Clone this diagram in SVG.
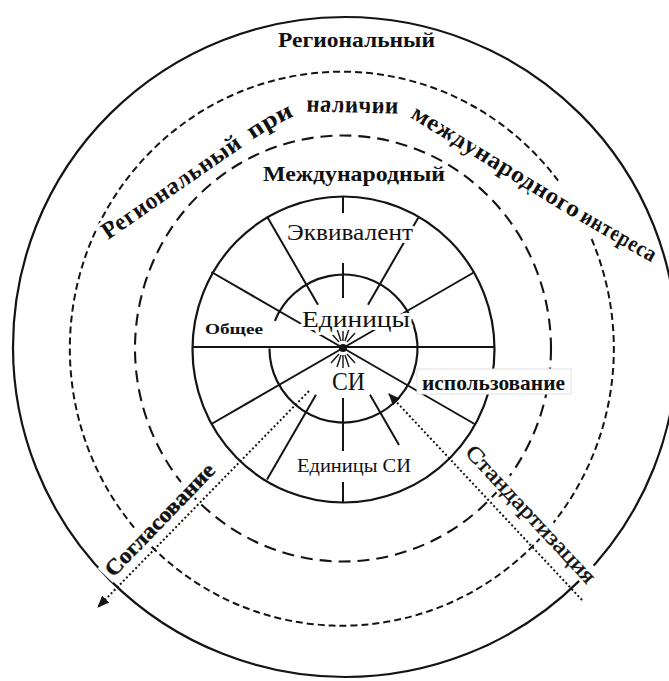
<svg xmlns="http://www.w3.org/2000/svg" width="669" height="681" viewBox="0 0 669 681">
<defs>
<style>
.c{fill:none;stroke:#141414;stroke-width:2.2}
.d1{fill:none;stroke:#141414;stroke-width:2;stroke-dasharray:7 4}
.d2{fill:none;stroke:#141414;stroke-width:2.1;stroke-dasharray:12 7}
.ln{fill:none;stroke:#141414;stroke-width:2}
.ray{fill:none;stroke:#141414;stroke-width:1.4}
.dot{fill:none;stroke:#141414;stroke-width:2;stroke-dasharray:2 2.4}
.t{font-family:"Liberation Serif","Times New Roman",serif;fill:#111}
.b{font-weight:bold}
.halo{stroke:#fff;stroke-width:6;stroke-linejoin:round;paint-order:stroke}
.bg{fill:#fff;stroke:none}
</style>
<marker id="ah" markerUnits="userSpaceOnUse" markerWidth="12" markerHeight="10" refX="11" refY="5" orient="auto">
<path d="M0,0 L12,5 L0,10 z" fill="#141414"/>
</marker>
<path id="arc" d="M 103,243.5 L 246,144.5 Q 277.5,122 305.5,111.5 L 398,113.5 Q 409,115.5 417,121.7 L 565,212.7 L 697,288.8"/>
</defs>
<rect width="669" height="681" fill="#fff"/>

<g id="rings">
<ellipse class="c" cx="345" cy="347" rx="332" ry="330"/>
<path class="d1" d="M 591.6,239 A 272 277 0 1 1 558.1,180.7"/>
<ellipse class="d2" cx="343" cy="348.5" rx="208" ry="213"/>
<ellipse class="c" cx="343.5" cy="349.5" rx="151" ry="153"/>
<path class="c" d="M269.5,348.5 A74,74 0 1 0 274.9,320.8"/>
</g>

<g id="sectors">
<path class="ln" d="M193,347 H494"/>
<path class="ln" d="M343,348 L211.4,272 M343,348 L474.6,272 M343,348 L211.4,424 M343,348 L474.6,424"/>
<path class="ln" d="M318,304.7 L267,216.4 M368,304.7 L419,216.4 M316,394.8 L267,479.6 M370,394.8 L399,445"/>
<path class="ln" d="M343,197 V213 M343,263 V298 M343,398 V451 M343,482 V503"/>
<path class="ray" d="M345,341 L349,329 M341,341 L337,329 M343,341 V331 M339,342 L331,333 M347,342 L355,333 M345,355 L349,367 M341,355 L337,367 M343,355 V368 M339,354 L331,363 M347,354 L355,363"/>
<circle cx="343" cy="348" r="4" fill="#141414"/>
</g>

<g id="labels">
<text class="t b" x="278" y="47" font-size="22" textLength="157" lengthAdjust="spacingAndGlyphs">Региональный</text>
<g id="curved" class="t b halo" font-size="24">
<text><textPath href="#arc" startOffset="6" textLength="164" lengthAdjust="spacingAndGlyphs">Региональный</textPath></text>
<text><textPath href="#arc" startOffset="182" textLength="48" lengthAdjust="spacingAndGlyphs">при</textPath></text>
<text><textPath href="#arc" startOffset="243" textLength="92" lengthAdjust="spacingAndGlyphs">наличии</textPath></text>
<text><textPath href="#arc" startOffset="347" textLength="194" lengthAdjust="spacingAndGlyphs">международного</textPath></text>
<text font-size="23"><textPath href="#arc" startOffset="545" textLength="84" lengthAdjust="spacingAndGlyphs">интереса</textPath></text>
</g>
<text class="t b halo" x="263" y="181" font-size="22" textLength="182" lengthAdjust="spacingAndGlyphs">Международный</text>
<text class="t halo" x="287" y="240" font-size="24" textLength="126" lengthAdjust="spacingAndGlyphs">Эквивалент</text>
<text class="t halo" x="302" y="327" font-size="23" textLength="108" lengthAdjust="spacingAndGlyphs">Единицы</text>
<text class="t b halo" x="205" y="334" font-size="15" textLength="58" lengthAdjust="spacingAndGlyphs">Общее</text>
<text class="t halo" x="332" y="390" font-size="25" textLength="33" lengthAdjust="spacingAndGlyphs">СИ</text>
<text class="t halo" x="297" y="472" font-size="19" textLength="114" lengthAdjust="spacingAndGlyphs">Единицы СИ</text>
<g id="use">
<rect x="417" y="369" width="154" height="25" fill="#fff" stroke="#e2e2e2" stroke-width="1"/>
<text class="t b" x="422" y="390" font-size="21" textLength="143" lengthAdjust="spacingAndGlyphs">использование</text>
</g>
<g id="soglas" transform="translate(160.5,520.5) rotate(-46)">
<rect class="bg" x="-78" y="-12" width="156" height="21"/>
<text class="t" x="0" y="6" font-size="22" font-weight="600" text-anchor="middle" textLength="148" lengthAdjust="spacingAndGlyphs" stroke="#111" stroke-width="0.4">Согласование</text>
</g>
<g id="stand" transform="translate(530,515) rotate(47)">
<rect class="bg" x="-93" y="-12" width="186" height="21"/>
<text class="t" x="0" y="6" font-size="22" text-anchor="middle" textLength="180" lengthAdjust="spacingAndGlyphs" stroke="#111" stroke-width="0.4">Стандартизация</text>
</g>
</g>

<g id="connectors">
<path class="dot" d="M309,391 L98,607" marker-end="url(#ah)"/>
<path class="dot" d="M582,600 L389,394" marker-end="url(#ah)"/>
</g>
</svg>
